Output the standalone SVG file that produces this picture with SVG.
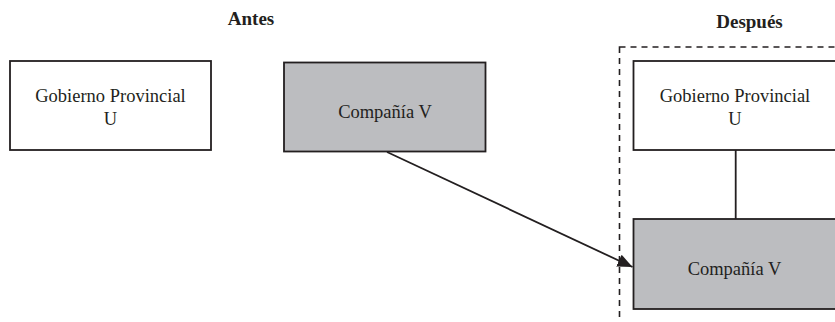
<svg xmlns="http://www.w3.org/2000/svg" width="835" height="322" viewBox="0 0 835 322">
<style>
.box{stroke:#231f20;stroke-width:1.8}
.w{fill:#ffffff}
.g{fill:#bcbdc0}
.t{font-family:"Liberation Serif","Times New Roman",serif;font-size:18.5px;fill:#231f20;text-anchor:middle}
.h{font-family:"Liberation Serif","Times New Roman",serif;font-size:19px;font-weight:bold;fill:#231f20;text-anchor:middle}
.c{stroke:#231f20;stroke-width:1.8;fill:none}
</style>
<defs>
<marker id="ah" viewBox="0 0 15 13" refX="15" refY="6.5" markerWidth="15" markerHeight="13" markerUnits="userSpaceOnUse" orient="auto">
<path d="M0,0 L15,6.5 L0,13 Z" fill="#231f20"/>
</marker>
</defs>
<rect width="835" height="322" fill="#ffffff"/>
<text class="h" x="251" y="25">Antes</text>
<text class="h" x="749.5" y="28">Después</text>
<rect id="grupo" x="619.5" y="47" width="230" height="290" fill="none" stroke="#231f20" stroke-width="1.6" stroke-dasharray="6,5"/>
<g id="gobierno-antes">
<rect class="box w" x="10" y="61" width="201" height="89"/>
<text class="t" x="110.5" y="102">Gobierno Provincial</text>
<text class="t" x="110.5" y="125">U</text>
</g>
<g id="compania-antes">
<rect class="box g" x="284" y="62.5" width="201.5" height="89"/>
<text class="t" x="385" y="118">Compañía V</text>
</g>
<g id="gobierno-despues">
<rect class="box w" x="633.5" y="61" width="210" height="89"/>
<text class="t" x="735" y="102">Gobierno Provincial</text>
<text class="t" x="735" y="125">U</text>
</g>
<g id="compania-despues">
<rect class="box g" x="633.5" y="219" width="210" height="90"/>
<text class="t" x="734.5" y="275">Compañía V</text>
</g>
<g id="connectors">
<line class="c" x1="735.7" y1="150" x2="735.7" y2="219"/>
<line class="c" x1="387" y1="152" x2="632.5" y2="267" marker-end="url(#ah)"/>
</g>
</svg>
